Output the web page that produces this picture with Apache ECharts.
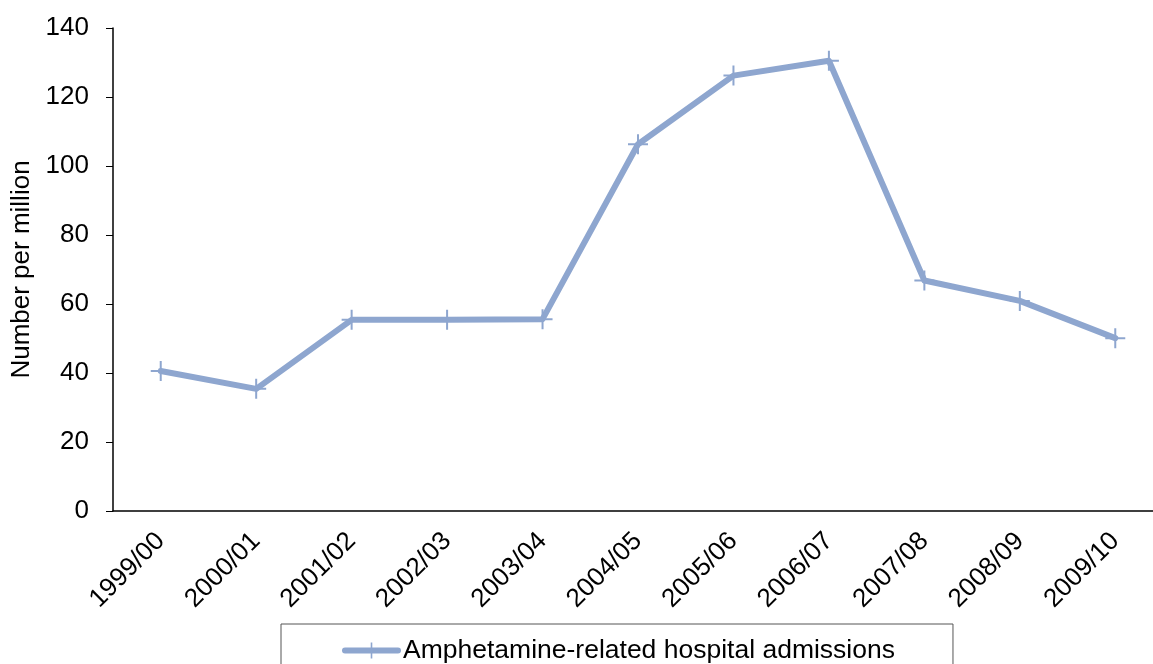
<!DOCTYPE html>
<html>
<head>
<meta charset="utf-8">
<script src="https://cdn.jsdelivr.net/npm/echarts@6/dist/echarts.min.js"></script>
<style>
  html, body { margin: 0; padding: 0; background: #fff; }
  #chart { width: 1153px; height: 664px; }
</style>
</head>
<body>
<div id="chart"></div>
<script>
// financial years on the x axis
const years = ['1999/00', '2000/01', '2001/02', '2002/03', '2003/04', '2004/05',
  '2005/06', '2006/07', '2007/08', '2008/09', '2009/10'];
// admissions per million population
const admissions = [40.6, 35.4, 55.4, 55.4, 55.6, 106.3, 126.2, 130.5, 66.8, 60.9, 50.1];
const seriesName = 'Amphetamine-related hospital admissions';

const FONT = '"Liberation Sans", Arial, sans-serif';
const LINE_COLOR = '#8EA6CF';
// thin plus sign used as the point marker
const PLUS = 'path://M9,0H11V9H20V11H11V20H9V11H0V9H9Z';

const chart = echarts.init(document.getElementById('chart'));

const option = {
  animation: false,
  grid: {
    left: 113,
    top: 28,
    right: -10,
    bottom: 153,
    outerBoundsMode: 'none'
  },
  legend: {
    data: [seriesName],
    left: 281,
    top: 624,
    padding: [13, 58, 40, 61],
    borderColor: '#555',
    borderWidth: 1,
    itemWidth: 53,
    itemHeight: 20,
    lineStyle: { width: 6, cap: 'round' },
    textStyle: { fontFamily: FONT, fontSize: 26.5, color: '#000' }
  },
  xAxis: {
    type: 'category',
    data: years,
    axisLine: { lineStyle: { color: '#000', width: 1.5 } },
    axisTick: { length: 7, lineStyle: { color: '#555' } },
    axisLabel: {
      rotate: 45,
      margin: 26,
      interval: 0,
      fontFamily: FONT,
      fontSize: 26,
      color: '#000'
    }
  },
  yAxis: {
    type: 'value',
    min: 0,
    max: 140,
    interval: 20,
    name: 'Number per million',
    nameLocation: 'middle',
    nameGap: 78,
    nameTextStyle: { fontFamily: FONT, fontSize: 26, color: '#000' },
    splitLine: { show: false },
    axisLine: { show: true, lineStyle: { color: '#000', width: 1.5 } },
    axisTick: { show: true, length: 7, lineStyle: { color: '#000' } },
    axisLabel: {
      margin: 24,
      fontFamily: FONT,
      fontSize: 26,
      color: '#000'
    }
  },
  series: [
    {
      name: seriesName,
      type: 'line',
      data: admissions,
      symbol: PLUS,
      symbolSize: 20,
      showAllSymbol: true,
      lineStyle: { color: LINE_COLOR, width: 6, cap: 'round', join: 'round' },
      itemStyle: { color: LINE_COLOR }
    }
  ]
};

chart.setOption(option);
</script>
</body>
</html>
